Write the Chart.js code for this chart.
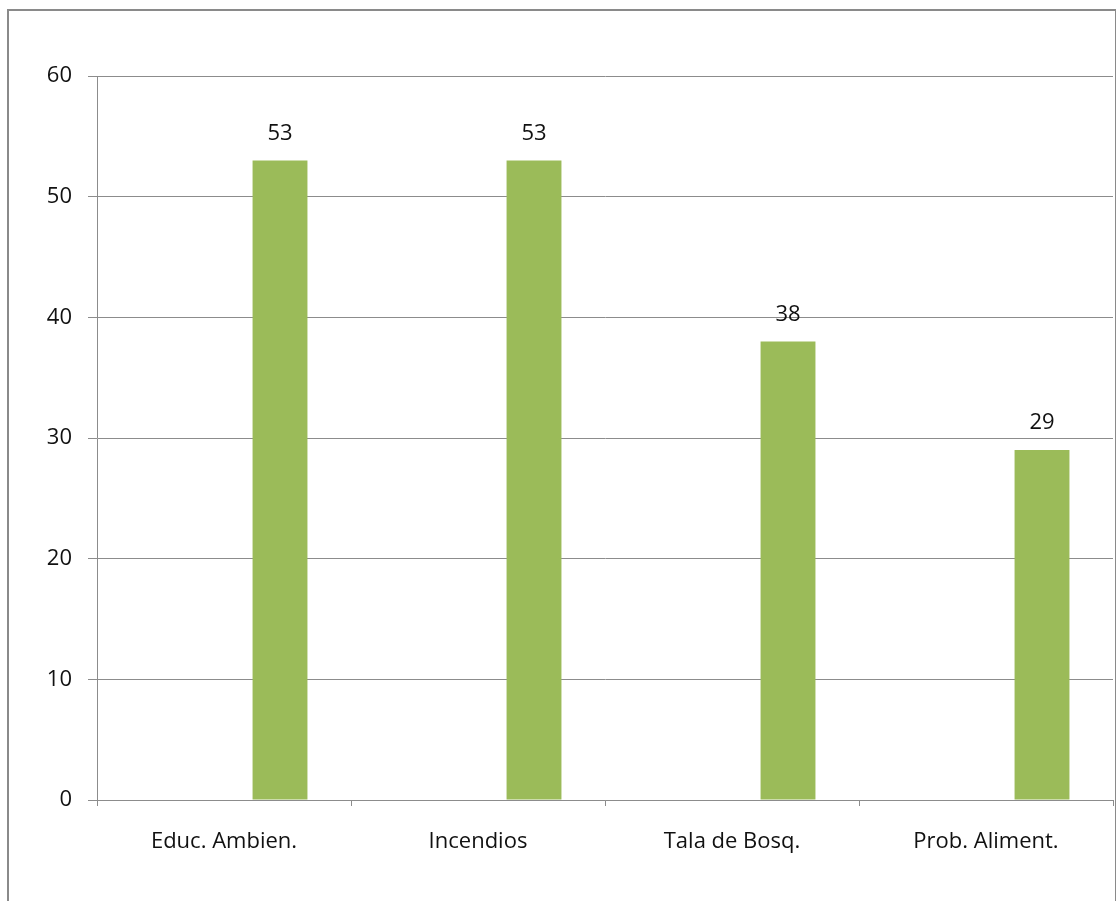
<!DOCTYPE html>
<html>
<head>
<meta charset="utf-8">
<script src="https://cdn.jsdelivr.net/npm/chart.js@4/dist/chart.umd.min.js"></script>
<style>
  html, body { margin: 0; padding: 0; background: #fff; }
  #marco { position: absolute; left: 7px; top: 9px; width: 1106px; height: 1000px; border: 2px solid #8a8a8a; border-bottom: none; }
  #wrap { position: absolute; left: 0; top: 0; width: 1116px; height: 901px; }
</style>
</head>
<body>
<div id="marco"></div>
<div id="wrap"><canvas id="grafico"></canvas></div>
<script>
const categorias = ['Educ. Ambien.', 'Incendios', 'Tala de Bosq.', 'Prob. Aliment.'];
const valores = [53, 53, 38, 29];
const vacio = [null, null, null, null];
const ticksY = [0, 10, 20, 30, 40, 50, 60];

const gris = '#8c8c8c';
const fuente = { family: '"Open Sans", Lato, sans-serif', size: 22 };

// etiquetas encima de las barras
const etiquetas = {
  id: 'etiquetas',
  afterDatasetsDraw(chart) {
    const ctx = chart.ctx;
    const meta = chart.getDatasetMeta(1);
    ctx.save();
    ctx.font = fuente.size + 'px ' + fuente.family;
    ctx.fillStyle = '#111';
    ctx.textAlign = 'center';
    ctx.textBaseline = 'middle';
    meta.data.forEach((bar, i) => {
      ctx.fillText(valores[i], bar.x, bar.y - 27);
    });
    ctx.restore();
  }
};

const data = {
  labels: categorias,
  datasets: [
    { label: 'vacio', data: vacio, backgroundColor: 'rgba(0,0,0,0)' },
    { label: 'Serie 1', data: valores, backgroundColor: '#9bbb59', borderWidth: 0 }
  ]
};

const config = {
  type: 'bar',
  data: data,
  options: {
    responsive: true,
    maintainAspectRatio: false,
    animation: false,
    datasets: { bar: { categoryPercentage: 0.882, barPercentage: 0.49 } },
    layout: { padding: { top: 76, right: 3, left: 0, bottom: 0 } },
    plugins: { legend: { display: false }, tooltip: { enabled: false } },
    scales: {
      x: {
        grid: { offset: true, drawOnChartArea: false, drawTicks: true, tickLength: 6, color: gris },
        border: { display: true, color: gris, width: 1 },
        ticks: { color: '#111', font: fuente, padding: 23 },
        afterFit: s => { s.height = 101; }
      },
      y: {
        min: 0,
        max: 60,
        afterBuildTicks: s => { s.ticks = ticksY.map(v => ({ value: v })); },
        grid: { color: gris, tickLength: 9 },
        border: { display: true, color: gris, width: 1 },
        ticks: { color: '#111', font: fuente, padding: 16 },
        afterFit: s => { s.width = 97; }
      }
    }
  },
  plugins: [etiquetas]
};

const miGrafico = new Chart(document.getElementById('grafico'), config);
</script>
</body>
</html>
